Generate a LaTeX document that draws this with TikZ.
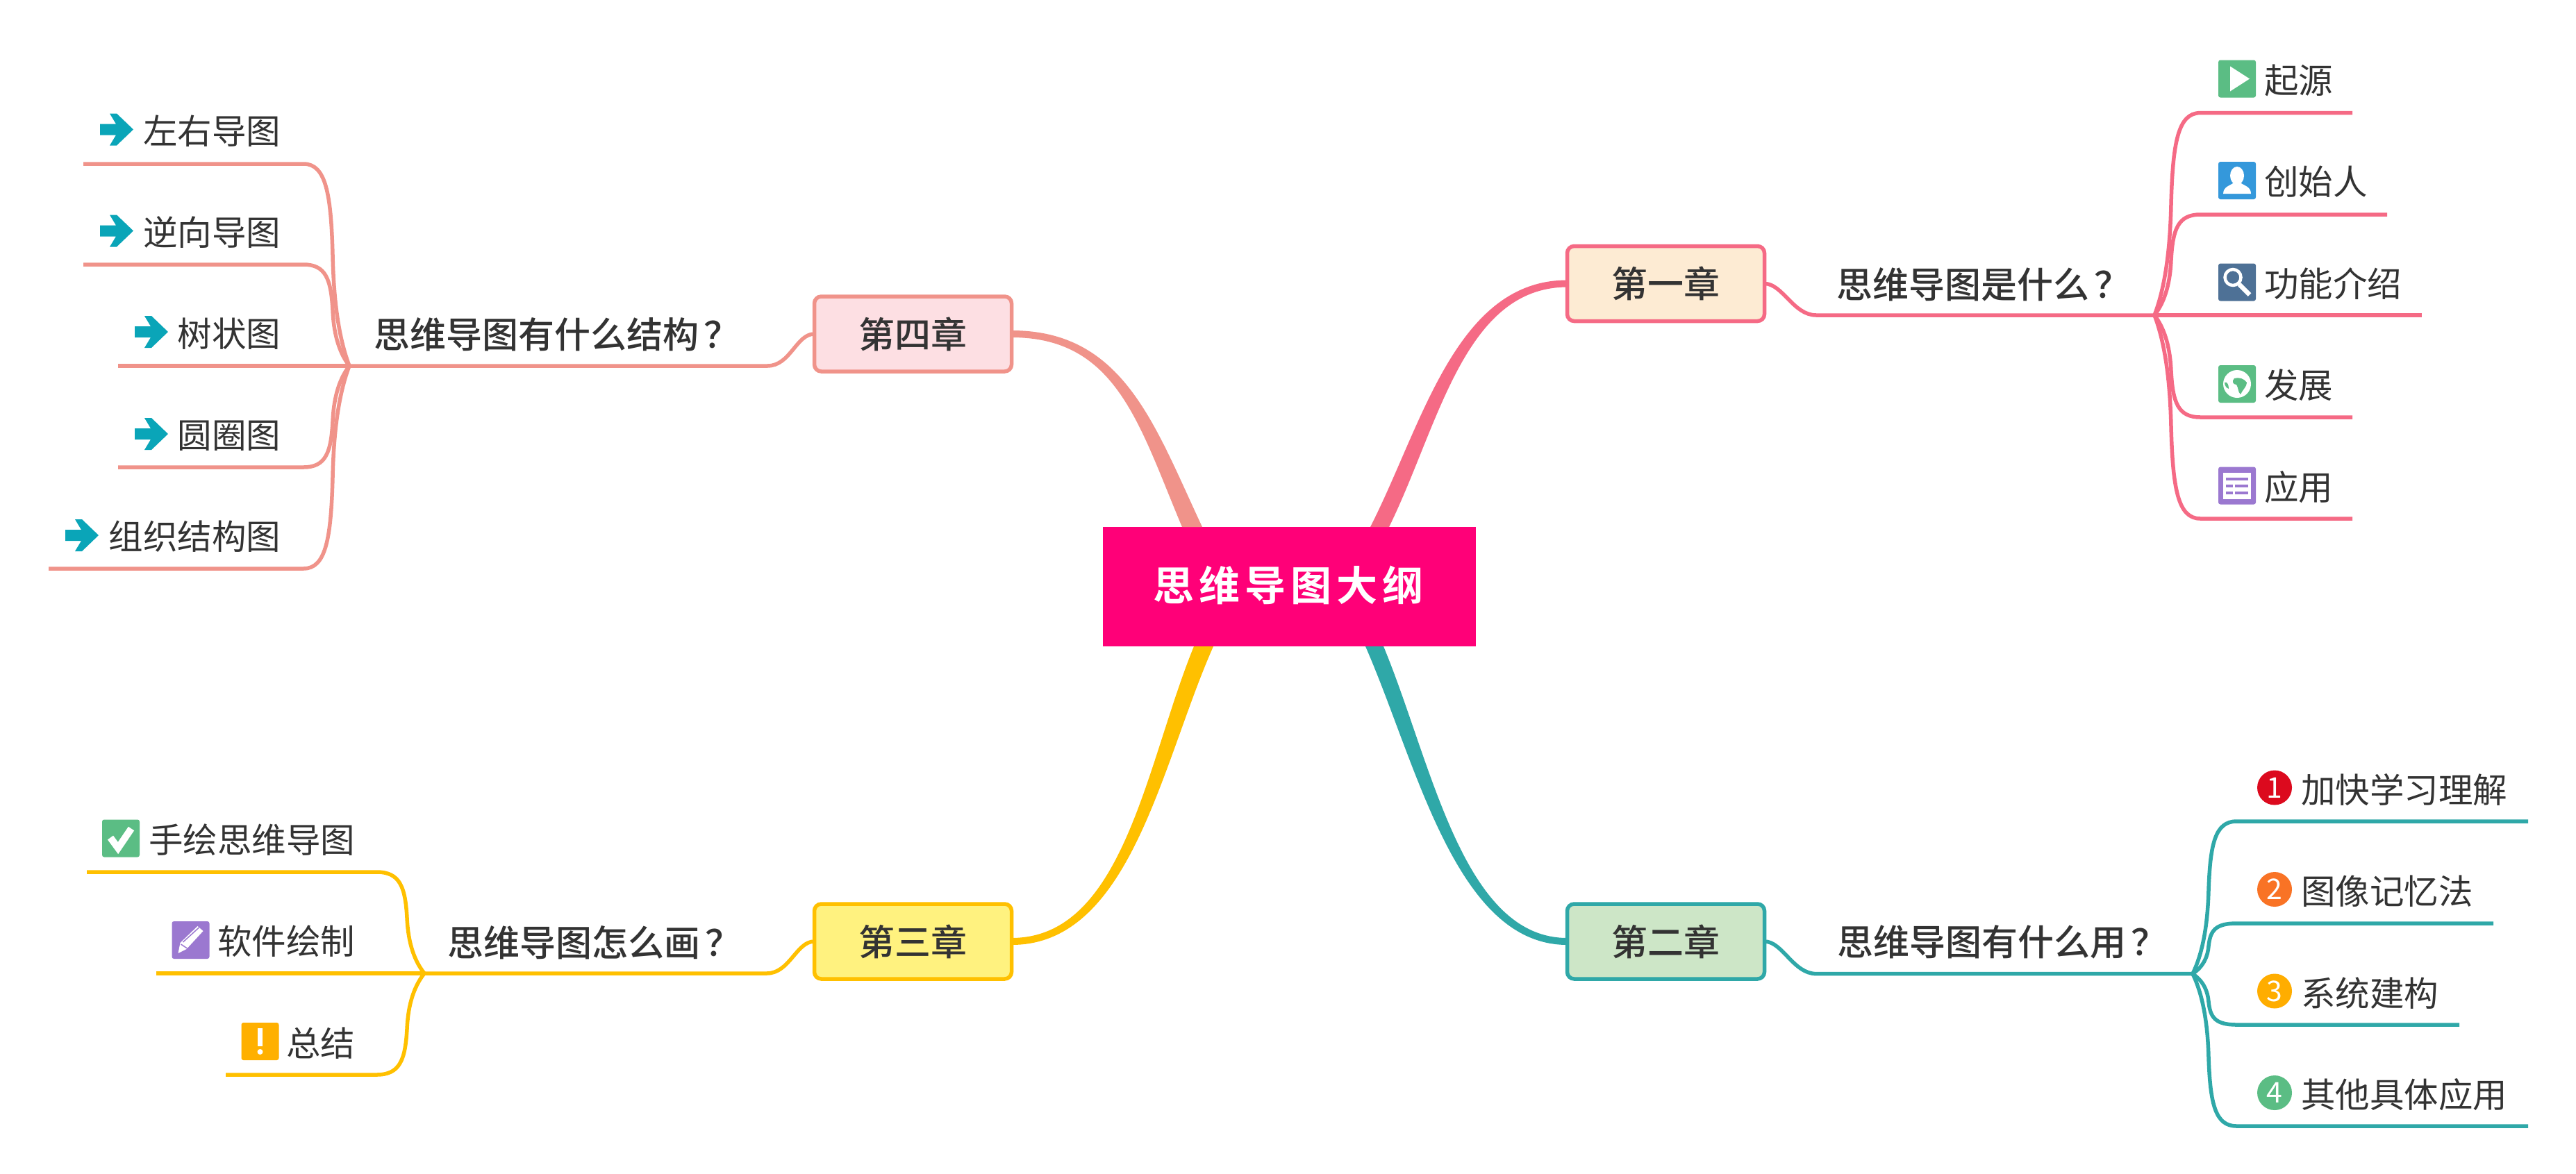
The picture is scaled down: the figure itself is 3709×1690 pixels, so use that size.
\documentclass[tikz,border=0pt]{standalone}
\usepackage{fontspec}
\setmainfont{Noto Sans CJK SC}
\newfontfamily\medfont{Noto Sans CJK SC Medium}
\newfontfamily\titlefont[LetterSpace=12]{Noto Sans CJK SC Bold}
\usetikzlibrary{calc}
\definecolor{cpink}{HTML}{F56A85}
\definecolor{cteal}{HTML}{2FA8A8}
\definecolor{cgold}{HTML}{FFC000}
\definecolor{csalmon}{HTML}{F0938A}
\definecolor{froot}{HTML}{FF0078}
\definecolor{fone}{HTML}{FDEBD3}
\definecolor{ftwo}{HTML}{CDE6C7}
\definecolor{fthree}{HTML}{FFF27F}
\definecolor{ffour}{HTML}{FDDFE3}
\definecolor{ink}{HTML}{333333}
\definecolor{igreen}{HTML}{5BBD84}
\definecolor{iblue}{HTML}{3498DB}
\definecolor{islate}{HTML}{4E7196}
\definecolor{ipurple}{HTML}{9B78D0}
\definecolor{iorange}{HTML}{FFB000}
\definecolor{iarrow}{HTML}{0AA5B8}
\definecolor{nred}{HTML}{DC0A1E}
\definecolor{norange}{HTML}{F97325}
\definecolor{nyellow}{HTML}{FFAD00}
\tikzset{
  x=1pt,y=-1pt,
  chapter/.style={draw,rounded corners=10pt,line width=5.5pt,minimum width=284pt,minimum height=108pt,
    outer sep=0pt,inner sep=0pt,text=ink,font=\fontsize{52}{60}\medfont},
  subtopic/.style={anchor=west,inner sep=0pt,outer sep=0pt,text=ink,text height=46pt,text depth=6pt,font=\fontsize{52}{60}\medfont},
  leaftext/.style={inner sep=0pt,outer sep=0pt,text=ink,text height=44pt,text depth=6pt,font=\fontsize{49.5}{60}\selectfont},
  iconbox/.style={rounded corners=3pt,minimum width=54pt,minimum height=54pt,inner sep=0pt,outer sep=0pt},
  numdot/.style={circle,minimum size=50pt,inner sep=0pt,outer sep=0pt,text=white,font=\fontsize{41}{44}\selectfont},
  branch/.style={line width=5.5pt,line cap=butt,line join=round},
  playglyph/.pic={\fill[white] (-10,-18) -- (18,0) -- (-10,18) -- cycle;},
  personglyph/.pic={\fill[white] (0,-7) circle[x radius=10,y radius=13];
    \fill[white] (-20,19) .. controls (-20,8) and (-8,7) .. (-5,3) -- (5,3) .. controls (8,7) and (20,8) .. (20,19) -- cycle;},
  lensglyph/.pic={\draw[white,line width=4.5pt] (-6,-7) circle[radius=11.5];
    \draw[white,line width=6.5pt] (3,3) -- (18,18);},
  globeglyph/.pic={\fill[white] (0,0) circle[radius=20];
    \fill[igreen] (-4,-8) .. controls (2,-10) and (10,-8) .. (14,-2) .. controls (14,4) and (8,8) .. (5,15) .. controls (1,12) and (2,5) .. (-1,1) .. controls (-6,1) and (-8,-4) .. (-4,-8) -- cycle;
    \fill[igreen] (-18,-2) .. controls (-14,-4) and (-12,2) .. (-12,7) .. controls (-15,6) and (-18,3) .. (-18,-2) -- cycle;},
  tableglyph/.pic={\fill[white] (-20,-19) rectangle (20,19);
    \fill[ipurple] (-16,-12) rectangle (16,-8);
    \fill[ipurple] (-16,-2) rectangle (-6,2);\fill[ipurple] (-3,-2) rectangle (16,2);
    \fill[ipurple] (-16,8) rectangle (-6,12);\fill[ipurple] (-3,8) rectangle (16,12);},
  checkglyph/.pic={\draw[white,line width=10pt] (-15,-1) -- (-4,14) -- (15,-14);},
  pencilglyph/.pic={\fill[white] (-18,19) -- (-15,4) -- (10,-20) -- (18,-13) -- (-6,13) -- cycle;
    \draw[ipurple,line width=1.5pt] (-14,6) -- (-5,12) (-11,3) -- (12,-18);},
  bangglyph/.pic={\fill[white] (-3.5,-19) rectangle (3.5,7);\fill[white] (0,15) circle[radius=4];},
  arrowglyph/.pic={\fill[iarrow] (-24,-8) -- (-1,-8) -- (-10,-23) -- (0,-23) -- (24,0) -- (0,23) -- (-10,23) -- (-1,8) -- (-24,8) -- cycle;},
}
\newcommand{\leafcurve}[5]{% color, fork, end, dy, dx of the vertical part
  \draw[branch,#1] (#2) .. controls ($(#2)+(0.7*#5,0.15*#4)$) and ($(#2)+(0.95*#5,0.35*#4)$) .. ($(#2)+(#5,0.55*#4)$)
     .. controls ($(#2)+(1.1*#5,0.85*#4)$) and ($(#2)+(1.4*#5,#4)$) .. ($(#2)+(2.75*#5,#4)$) -- (#3);}
\begin{document}
\begin{tikzpicture}
\useasboundingbox (0,0) rectangle (3709,1690);
\fill[white] (0,0) rectangle (3709,1690);

% central topic and chapters
\node[fill=froot,minimum width=537pt,minimum height=172pt,inner sep=0pt,outer sep=0pt] (root) at (1856.5,845) {};
\node[text=white,inner sep=0pt,text height=52pt,text depth=7pt,font=\fontsize{59}{60}\titlefont] (roottext) at (1855,843) {思维导图大纲};
\node[chapter,fill=fone,draw=cpink] (ch1) at (2398.5,408.5) {第一章};
\node[chapter,fill=ftwo,draw=cteal] (ch2) at (2398.5,1356) {第二章};
\node[chapter,fill=fthree,draw=cgold] (ch3) at (1314.5,1356) {第三章};
\node[chapter,fill=ffour,draw=csalmon] (ch4) at (1314.5,481) {第四章};

% tapered main branches
\fill[cpink] ($(root.north west)+(385,0)$) .. controls (2048,612) and (2096,403.5) .. ($(ch1.west)+(0,-5)$) -- ($(ch1.west)+(0,5)$)
   .. controls (2108,414) and (2072,612) .. ($(root.north west)+(412,0)$) -- cycle;
\fill[csalmon] ($(root.north west)+(114,0)$) .. controls (1640,612) and (1608,486) .. ($(ch4.east)+(0,5)$) -- ($(ch4.east)+(0,-5)$)
   .. controls (1618,476) and (1662,612) .. ($(root.north west)+(143,0)$) -- cycle;
\fill[cgold] ($(root.south west)+(131,0)$) .. controls (1650,1100) and (1618,1351) .. ($(ch3.east)+(0,-5)$) -- ($(ch3.east)+(0,5)$)
   .. controls (1628,1361) and (1672,1100) .. ($(root.south west)+(159,0)$) -- cycle;
\fill[cteal] ($(root.south west)+(378,0)$) .. controls (2040,1100) and (2096,1361) .. ($(ch2.west)+(0,5)$) -- ($(ch2.west)+(0,-5)$)
   .. controls (2106,1351) and (2062,1100) .. ($(root.south west)+(404,0)$) -- cycle;

% forks and leaf ends
\coordinate (f1) at (3102,454);
\coordinate (f2) at (3157,1402.6);
\coordinate (f3) at (611,1402);
\coordinate (f4) at (503,527);
\coordinate (e11) at (3387,162.6);\coordinate (e12) at (3437,309);\coordinate (e13) at (3487,454);\coordinate (e14) at (3387,601);\coordinate (e15) at (3387,747);
\coordinate (e21) at (3640,1183);\coordinate (e22) at (3590,1330);\coordinate (e23) at (3541,1476);\coordinate (e24) at (3640,1622);
\coordinate (e31) at (125,1256);\coordinate (e32) at (225,1402);\coordinate (e33) at (325,1548);
\coordinate (e41) at (120,236);\coordinate (e42) at (120,381);\coordinate (e43) at (170,527);\coordinate (e44) at (170,673);\coordinate (e45) at (70,819);

% chapter to fork
\draw[branch,cpink] (ch1.east) .. controls +(26,0) and (2582,454) .. (2615,454) -- (f1);
\draw[branch,cteal] (ch2.east) .. controls +(26,0) and (2582,1402.6) .. (2615,1402.6) -- (f2);
\draw[branch,cgold] (ch3.west) .. controls +(-26,0) and (1137,1402) .. (1104,1402) -- (f3);
\draw[branch,csalmon] (ch4.west) .. controls +(-26,0) and (1138,527) .. (1105,527) -- (f4);

% fork to leaves
\leafcurve{cpink}{f1}{e11}{-291.4}{24}
\leafcurve{cpink}{f1}{e12}{-145}{24}
\draw[branch,cpink] (f1) -- (e13);
\leafcurve{cpink}{f1}{e14}{147}{24}
\leafcurve{cpink}{f1}{e15}{293}{24}
\leafcurve{cteal}{f2}{e21}{-219.6}{23}
\leafcurve{cteal}{f2}{e22}{-72.6}{23}
\leafcurve{cteal}{f2}{e23}{73.4}{23}
\leafcurve{cteal}{f2}{e24}{219.4}{23}
\leafcurve{cgold}{f3}{e31}{-146}{-25}
\draw[branch,cgold] (f3) -- (e32);
\leafcurve{cgold}{f3}{e33}{146}{-25}
\leafcurve{csalmon}{f4}{e41}{-291}{-24}
\leafcurve{csalmon}{f4}{e42}{-146}{-24}
\draw[branch,csalmon] (f4) -- (e43);
\leafcurve{csalmon}{f4}{e44}{146}{-24}
\leafcurve{csalmon}{f4}{e45}{292}{-24}

% subtopics
\node[subtopic] (s1) at (2644,409) {思维导图是什么\hspace{8pt}？};
\node[subtopic] (s2) at (2645,1356) {思维导图有什么用\hspace{8pt}？};
\node[subtopic] (s3) at (644,1357) {思维导图怎么画\hspace{8pt}？};
\node[subtopic] (s4) at (538,481) {思维导图有什么结构\hspace{8pt}？};

% chapter one leaves
\node[iconbox,fill=igreen] (i11) at (3221,113.5) {}; \pic at (i11) {playglyph};
\node[iconbox,fill=iblue] (i12) at (3221,260) {}; \pic at (i12) {personglyph};
\node[iconbox,fill=islate] (i13) at (3221,406.5) {}; \pic at (i13) {lensglyph};
\node[iconbox,fill=igreen] (i14) at (3221,553) {}; \pic at (i14) {globeglyph};
\node[iconbox,fill=ipurple] (i15) at (3221,699.5) {}; \pic at (i15) {tableglyph};
\node[leaftext,anchor=west] (l11) at (3260,115) {起源};
\node[leaftext,anchor=west] (l12) at (3260,261.5) {创始人};
\node[leaftext,anchor=west] (l13) at (3260,408) {功能介绍};
\node[leaftext,anchor=west] (l14) at (3260,554.5) {发展};
\node[leaftext,anchor=west] (l15) at (3260,701) {应用};

% chapter two leaves
\node[numdot,fill=nred] (n1) at (3275,1134.5) {1};
\node[numdot,fill=norange] (n2) at (3275,1281) {2};
\node[numdot,fill=nyellow] (n3) at (3275,1427.5) {3};
\node[numdot,fill=igreen] (n4) at (3275,1574) {4};
\node[leaftext,anchor=west] (l21) at (3313,1137) {加快学习理解};
\node[leaftext,anchor=west] (l22) at (3313,1283.5) {图像记忆法};
\node[leaftext,anchor=west] (l23) at (3313,1430) {系统建构};
\node[leaftext,anchor=west] (l24) at (3313,1576.5) {其他具体应用};

% chapter three leaves
\node[iconbox,fill=igreen] (i31) at (174,1207.5) {}; \pic at (i31) {checkglyph};
\node[iconbox,fill=ipurple] (i32) at (274.5,1354) {}; \pic at (i32) {pencilglyph};
\node[iconbox,fill=iorange] (i33) at (374.5,1500) {}; \pic at (i33) {bangglyph};
\node[leaftext,anchor=east] (l31) at (511,1209) {手绘思维导图};
\node[leaftext,anchor=east] (l32) at (511,1355.5) {软件绘制};
\node[leaftext,anchor=east] (l33) at (511,1502) {总结};

% chapter four leaves
\coordinate (a1) at (168,186.5); \pic at (a1) {arrowglyph};
\coordinate (a2) at (168,332.5); \pic at (a2) {arrowglyph};
\coordinate (a3) at (218,478); \pic at (a3) {arrowglyph};
\coordinate (a4) at (218,625); \pic at (a4) {arrowglyph};
\coordinate (a5) at (118,771); \pic at (a5) {arrowglyph};
\node[leaftext,anchor=east] (l41) at (404,188) {左右导图};
\node[leaftext,anchor=east] (l42) at (404,334) {逆向导图};
\node[leaftext,anchor=east] (l43) at (404,480) {树状图};
\node[leaftext,anchor=east] (l44) at (404,626) {圆圈图};
\node[leaftext,anchor=east] (l45) at (404,772) {组织结构图};
\end{tikzpicture}
\end{document}
